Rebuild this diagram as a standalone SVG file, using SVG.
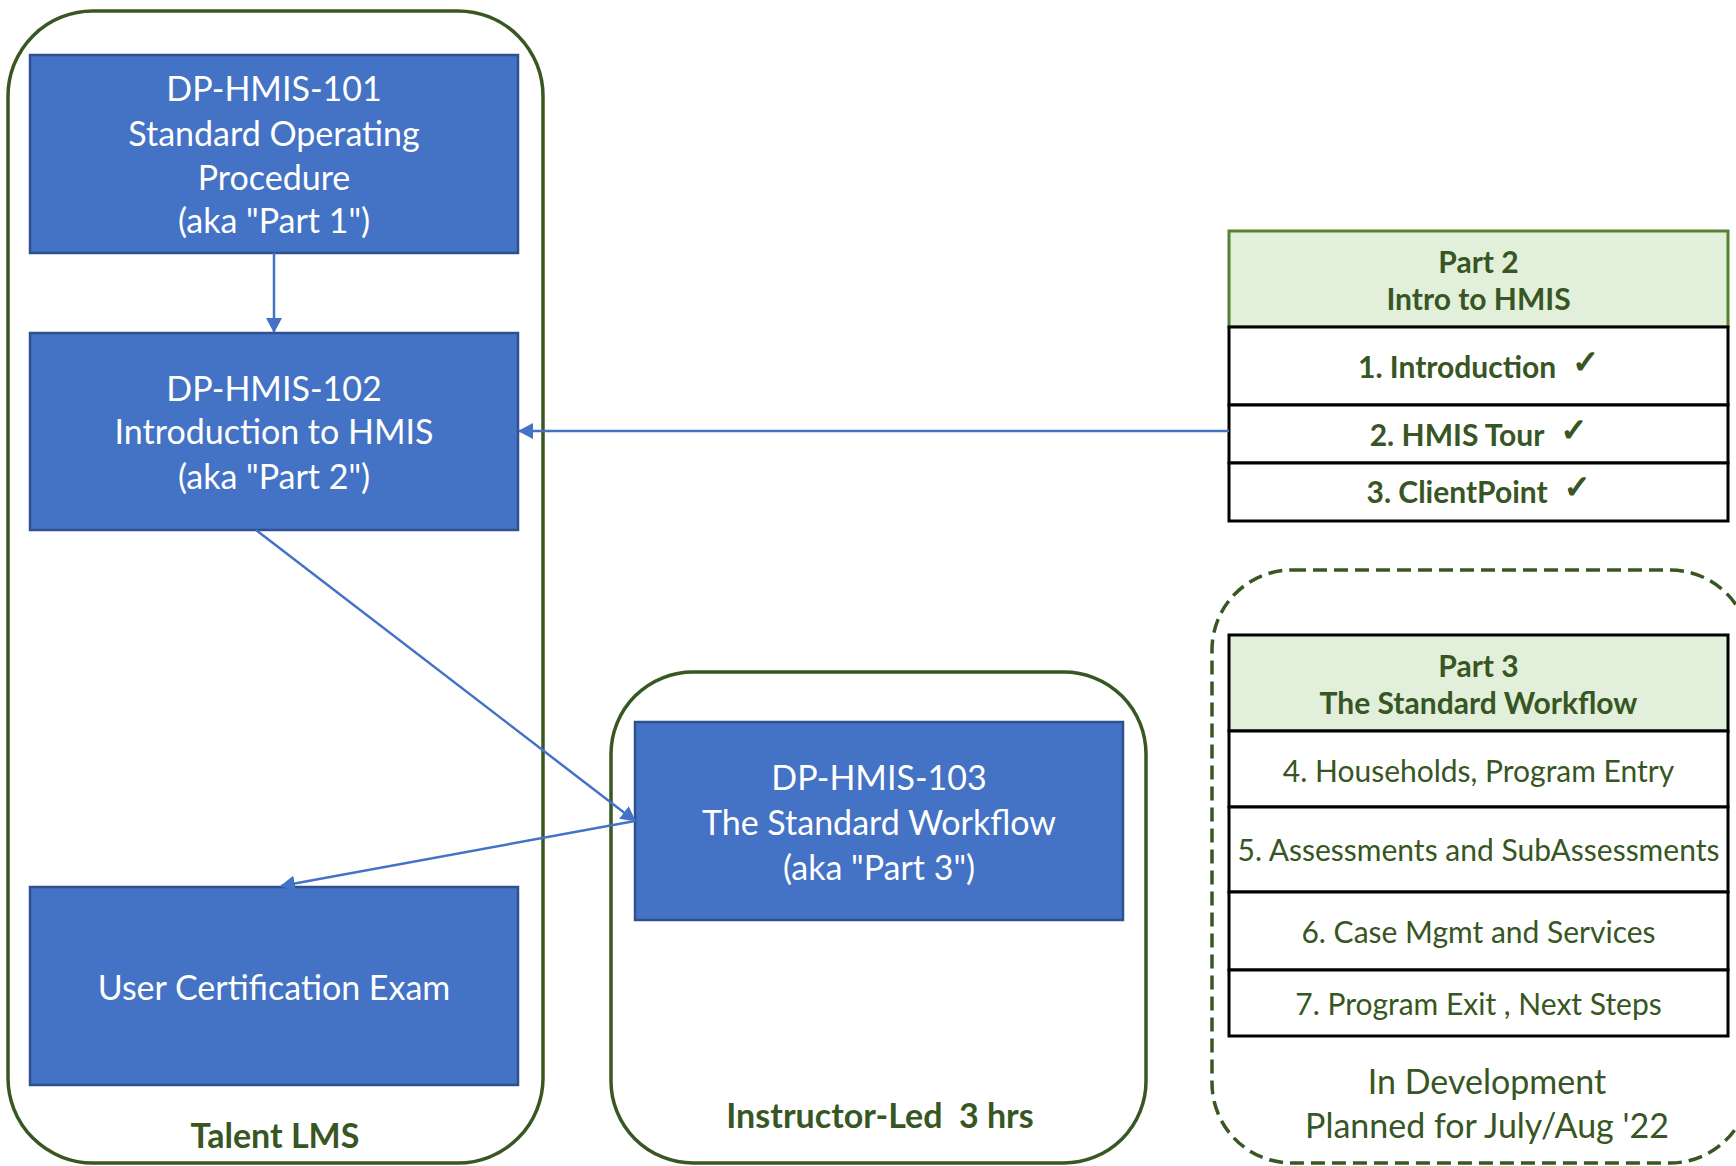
<svg xmlns="http://www.w3.org/2000/svg" width="1736" height="1166" viewBox="0 0 1736 1166">
<style>
.frame{fill:none;stroke:#385723;stroke-width:3.5}
.dash{fill:none;stroke:#385723;stroke-width:3.5;stroke-dasharray:14 7}
.box{fill:#4472C4;stroke:#2F528F;stroke-width:2.5}
.bt{font-family:Lato,"Liberation Sans",sans-serif;font-size:34px;fill:#FFFFFF;text-anchor:middle}
.gl{font-family:Lato,"Liberation Sans",sans-serif;font-size:34px;font-weight:bold;fill:#375623;text-anchor:middle}
.hdr{fill:#E2EFDA}
.row{fill:#FFFFFF;stroke:#000000;stroke-width:3}
.th{font-family:Lato,"Liberation Sans",sans-serif;font-size:30px;font-weight:bold;fill:#375623;text-anchor:middle}
.tr{font-family:Lato,"Liberation Sans",sans-serif;font-size:30px;fill:#375623;text-anchor:middle}
.dev{font-family:Lato,"Liberation Sans",sans-serif;font-size:34px;fill:#375623;text-anchor:middle}
.ck{font-family:"DejaVu Sans",sans-serif;font-weight:bold;font-size:32px;stroke:#375623;stroke-width:1.3}
.con{fill:none;stroke:#4472C4;stroke-width:2.5}
</style>
<defs>
<marker id="arr" markerUnits="userSpaceOnUse" markerWidth="16" markerHeight="16" refX="14" refY="8" orient="auto">
<path d="M0,0 L15,8 L0,16 z" fill="#4472C4"/>
</marker>
</defs>

<g id="talent-lms">
<rect class="frame" x="8" y="11" width="535" height="1152" rx="85" ry="85"/>
<text class="gl" x="275" y="1148">Talent LMS</text>
</g>

<g id="instructor-led">
<rect class="frame" x="611" y="672" width="535" height="491" rx="82" ry="82"/>
<text class="gl" x="880" y="1128">Instructor-Led&#160; 3 hrs</text>
</g>

<g id="in-development">
<rect class="dash" x="1212" y="570" width="538" height="593" rx="80" ry="80"/>
<text class="dev" x="1487" y="1094">In Development</text>
<text class="dev" x="1487" y="1138">Planned for July/Aug '22</text>
</g>

<g id="dp-hmis-101">
<rect class="box" x="30" y="55" width="488" height="198"/>
<text class="bt" x="274" y="101">DP-HMIS-101</text>
<text class="bt" x="274" y="146">Standard Operating</text>
<text class="bt" x="274" y="189.5">Procedure</text>
<text class="bt" x="274" y="233">(aka "Part 1")</text>
</g>

<g id="dp-hmis-102">
<rect class="box" x="30" y="333" width="488" height="197"/>
<text class="bt" x="274" y="401">DP-HMIS-102</text>
<text class="bt" x="274" y="444">Introduction to HMIS</text>
<text class="bt" x="274" y="489">(aka "Part 2")</text>
</g>

<g id="exam">
<rect class="box" x="30" y="887" width="488" height="198"/>
<text class="bt" x="274" y="1000">User Certification Exam</text>
</g>

<g id="dp-hmis-103">
<rect class="box" x="635" y="722" width="488" height="198"/>
<text class="bt" x="879" y="789.5">DP-HMIS-103</text>
<text class="bt" x="879" y="835">The Standard Workflow</text>
<text class="bt" x="879" y="880">(aka "Part 3")</text>
</g>

<g id="part2-table">
<rect class="hdr" x="1229" y="231" width="499" height="96" stroke="#548235" stroke-width="3"/>
<rect class="row" x="1229" y="327" width="499" height="78"/>
<rect class="row" x="1229" y="405" width="499" height="58"/>
<rect class="row" x="1229" y="463" width="499" height="58"/>
<text class="th" x="1478.5" y="272.5">Part 2</text>
<text class="th" x="1478.5" y="309.5">Intro to HMIS</text>
<text class="th" x="1478.5" y="377.5">1. Introduction<tspan class="ck" dx="16" dy="-5">✓</tspan></text>
<text class="th" x="1478.5" y="445.5">2. HMIS Tour<tspan class="ck" dx="16" dy="-5">✓</tspan></text>
<text class="th" x="1478.5" y="502.5">3. ClientPoint<tspan class="ck" dx="16" dy="-5">✓</tspan></text>
</g>

<g id="part3-table">
<rect class="hdr" x="1229" y="635" width="499" height="96" stroke="#000000" stroke-width="3"/>
<rect class="row" x="1229" y="731" width="499" height="76"/>
<rect class="row" x="1229" y="807" width="499" height="85"/>
<rect class="row" x="1229" y="892" width="499" height="78"/>
<rect class="row" x="1229" y="970" width="499" height="66"/>
<text class="th" x="1478.5" y="676.5">Part 3</text>
<text class="th" x="1478.5" y="713.5">The Standard Workflow</text>
<text class="tr" x="1478.5" y="781.5">4. Households, Program Entry</text>
<text class="tr" x="1478.5" y="860.5">5. Assessments and SubAssessments</text>
<text class="tr" x="1478.5" y="942.5">6. Case Mgmt and Services</text>
<text class="tr" x="1478.5" y="1014.5">7. Program Exit , Next Steps</text>
</g>

<g id="connectors">
<line class="con" x1="274" y1="253" x2="274" y2="332" marker-end="url(#arr)"/>
<line class="con" x1="1229" y1="431" x2="519" y2="431" marker-end="url(#arr)"/>
<line class="con" x1="256" y1="530" x2="635" y2="821" marker-end="url(#arr)"/>
<line class="con" x1="635" y1="821" x2="281" y2="886" marker-end="url(#arr)"/>
</g>
</svg>
